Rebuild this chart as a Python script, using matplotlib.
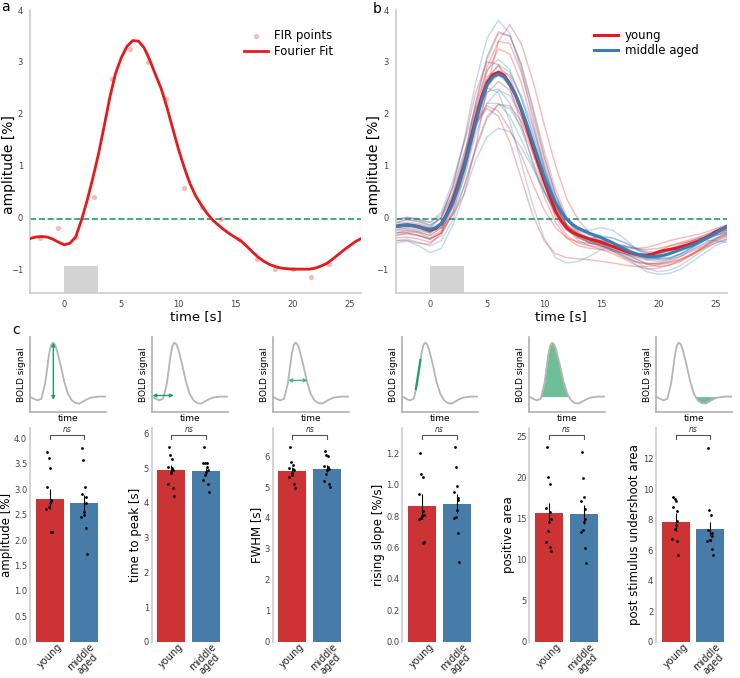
import numpy as np
import matplotlib
matplotlib.use('Agg')
import matplotlib.pyplot as plt
from matplotlib.transforms import blended_transform_factory

# colours
RED = '#e41a1c'
BLUE = '#377eb8'
BAR_RED = '#cb3335'
BAR_BLUE = '#477ca8'
GREEN = '#1f9e68'
LIGHT_GREEN = '#4db38a'
FILL_GREEN = '#6ebe96'
SPINE = '#cccccc'
TICK = '#444444'

W, H = 740, 678

# ---------------- data ----------------
# panel a: FIR estimates and Fourier fit
fir_time = [-2.16, -0.59, 0.99, 2.6, 4.18, 5.78, 7.33, 8.9, 10.5, 12.1,
            13.7, 15.3, 16.85, 18.46, 20.0, 21.6, 23.2]
fir_amp = [-0.39, -0.20, -0.37, 0.39, 2.67, 3.24, 3.00, 2.29, 0.56, 0.20,
           -0.04, -0.41, -0.80, -1.00, -1.00, -1.15, -0.90]

fit_time = np.arange(-3, 26.5, 0.5)  # sample grid
fit_amp = [-0.41, -0.38, -0.37, -0.38, -0.42, -0.48, -0.53, -0.50, -0.38, -0.06,
           0.32, 0.75, 1.22, 1.76, 2.32, 2.78, 3.08, 3.30, 3.41, 3.40,
           3.27, 3.03, 2.75, 2.48, 2.12, 1.72, 1.32, 0.97, 0.66, 0.42,
           0.24, 0.08, -0.05, -0.15, -0.24, -0.32, -0.39, -0.46, -0.56, -0.67,
           -0.77, -0.85, -0.91, -0.95, -0.98, -0.99, -1.00, -1.00, -1.00, -1.00,
           -0.98, -0.94, -0.89, -0.81, -0.72, -0.63, -0.55, -0.47, -0.41]

# panel b: group means (0.5 s grid) and single subjects (1 s grid)
mean_time = np.arange(-3, 26.5, 0.5)
young_mean = [-0.17, -0.16, -0.15, -0.16, -0.18, -0.22, -0.25, -0.22, -0.12, 0.07,
              0.33, 0.64, 0.98, 1.43, 1.89, 2.30, 2.60, 2.75, 2.80, 2.74,
              2.58, 2.36, 2.07, 1.73, 1.37, 1.03, 0.70, 0.40, 0.12, -0.07,
              -0.21, -0.29, -0.34, -0.38, -0.42, -0.45, -0.48, -0.52, -0.56, -0.60,
              -0.64, -0.68, -0.71, -0.73, -0.73, -0.71, -0.67, -0.64, -0.62, -0.60,
              -0.57, -0.54, -0.50, -0.46, -0.41, -0.35, -0.28, -0.23, -0.18]
middle_mean = [-0.18, -0.16, -0.15, -0.16, -0.19, -0.21, -0.23, -0.20, -0.12, 0.05,
               0.27, 0.58, 0.95, 1.38, 1.82, 2.23, 2.55, 2.71, 2.76, 2.71,
               2.56, 2.36, 2.10, 1.79, 1.46, 1.13, 0.80, 0.52, 0.28, 0.10,
               -0.04, -0.14, -0.21, -0.26, -0.31, -0.35, -0.39, -0.44, -0.49, -0.55,
               -0.60, -0.66, -0.70, -0.73, -0.76, -0.76, -0.75, -0.73, -0.70, -0.66,
               -0.62, -0.58, -0.54, -0.49, -0.43, -0.37, -0.31, -0.24, -0.18]

subj_time = np.arange(-3, 27, 1)
young_subjects = [
    [-0.10, -0.12, -0.15, -0.22, -0.20, 0.05, 0.45, 1.35, 2.50, 3.40, 3.72, 3.35, 2.65, 1.80, 1.00,
     0.35, -0.05, -0.30, -0.50, -0.65, -0.78, -0.86, -0.90, -0.90, -0.86, -0.80, -0.70, -0.56, -0.42, -0.30],
    [-0.30, -0.28, -0.30, -0.40, -0.25, 0.30, 1.10, 2.20, 3.10, 3.58, 3.50, 2.95, 2.10, 1.20, 0.45,
     -0.05, -0.30, -0.45, -0.55, -0.65, -0.75, -0.85, -0.90, -0.88, -0.82, -0.75, -0.65, -0.55, -0.42, -0.32],
    [-0.20, -0.22, -0.25, -0.30, -0.15, 0.35, 1.05, 2.05, 2.90, 3.40, 3.35, 2.80, 2.00, 1.15, 0.45,
     -0.05, -0.35, -0.50, -0.55, -0.60, -0.68, -0.80, -0.90, -0.95, -0.92, -0.85, -0.72, -0.58, -0.45, -0.35],
    [-0.35, -0.32, -0.35, -0.42, -0.30, 0.20, 0.95, 1.95, 2.80, 3.25, 3.15, 2.60, 1.80, 0.95, 0.25,
     -0.20, -0.45, -0.55, -0.62, -0.70, -0.80, -0.92, -1.00, -0.98, -0.92, -0.82, -0.70, -0.58, -0.46, -0.38],
    [-0.15, -0.10, -0.12, -0.20, 0.00, 0.60, 1.45, 2.40, 3.00, 2.95, 2.50, 1.80, 1.05, 0.40, -0.10,
     -0.40, -0.55, -0.60, -0.62, -0.65, -0.70, -0.75, -0.78, -0.72, -0.62, -0.52, -0.45, -0.38, -0.30, -0.25],
    [-0.25, -0.25, -0.28, -0.35, -0.20, 0.30, 0.95, 1.85, 2.55, 2.75, 2.55, 2.05, 1.35, 0.65, 0.10,
     -0.25, -0.40, -0.48, -0.52, -0.58, -0.65, -0.72, -0.72, -0.65, -0.55, -0.48, -0.42, -0.35, -0.28, -0.22],
    [-0.40, -0.38, -0.42, -0.48, -0.35, 0.10, 0.80, 1.70, 2.40, 2.62, 2.45, 1.95, 1.25, 0.55, 0.00,
     -0.35, -0.50, -0.55, -0.58, -0.62, -0.68, -0.75, -0.80, -0.78, -0.70, -0.60, -0.50, -0.42, -0.35, -0.30],
    [-0.30, -0.30, -0.35, -0.42, -0.30, 0.05, 0.60, 1.30, 1.90, 2.18, 2.15, 1.85, 1.35, 0.75, 0.20,
     -0.15, -0.35, -0.45, -0.50, -0.55, -0.62, -0.70, -0.72, -0.68, -0.60, -0.55, -0.48, -0.40, -0.32, -0.25],
    [-0.05, 0.00, -0.02, -0.10, 0.05, 0.55, 1.25, 1.85, 2.15, 2.05, 1.70, 1.20, 0.65, 0.15, -0.20,
     -0.40, -0.48, -0.50, -0.52, -0.55, -0.58, -0.60, -0.58, -0.52, -0.45, -0.40, -0.35, -0.30, -0.22, -0.15],
    [-0.45, -0.45, -0.50, -0.52, -0.30, 0.30, 1.10, 1.80, 2.10, 1.95, 1.45, 0.75, 0.05, -0.45, -0.70,
     -0.78, -0.80, -0.82, -0.85, -0.88, -0.92, -0.95, -0.95, -0.92, -0.88, -0.82, -0.72, -0.60, -0.50, -0.42],
    [-0.20, -0.18, -0.20, -0.28, -0.12, 0.40, 1.10, 2.00, 2.70, 2.92, 2.70, 2.15, 1.45, 0.75, 0.20,
     -0.15, -0.32, -0.40, -0.45, -0.50, -0.55, -0.60, -0.62, -0.60, -0.55, -0.50, -0.45, -0.38, -0.30, -0.22],
]
middle_subjects = [
    [-0.10, -0.05, -0.08, -0.18, 0.00, 0.60, 1.50, 2.60, 3.45, 3.80, 3.55, 2.85, 1.90, 1.00, 0.30,
     -0.15, -0.40, -0.50, -0.55, -0.62, -0.70, -0.78, -0.82, -0.80, -0.72, -0.62, -0.52, -0.42, -0.32, -0.22],
    [-0.20, -0.15, -0.18, -0.30, -0.15, 0.35, 1.15, 2.20, 3.05, 3.55, 3.50, 2.95, 2.15, 1.30, 0.55,
     0.00, -0.22, -0.25, -0.20, -0.25, -0.40, -0.60, -0.75, -0.80, -0.78, -0.70, -0.58, -0.45, -0.35, -0.25],
    [-0.05, -0.02, -0.05, -0.15, -0.02, 0.45, 1.20, 2.15, 2.85, 3.05, 2.85, 2.30, 1.60, 0.90, 0.35,
     -0.05, -0.28, -0.40, -0.45, -0.50, -0.55, -0.62, -0.68, -0.70, -0.65, -0.55, -0.45, -0.35, -0.25, -0.15],
    [-0.30, -0.25, -0.28, -0.35, -0.20, 0.20, 0.95, 1.90, 2.65, 2.95, 2.80, 2.30, 1.65, 0.95, 0.35,
     -0.05, -0.25, -0.35, -0.42, -0.50, -0.60, -0.72, -0.82, -0.85, -0.80, -0.70, -0.58, -0.45, -0.35, -0.28],
    [-0.15, -0.12, -0.15, -0.22, -0.10, 0.25, 0.90, 1.80, 2.50, 2.82, 2.75, 2.35, 1.75, 1.05, 0.40,
     -0.05, -0.25, -0.32, -0.35, -0.40, -0.48, -0.58, -0.68, -0.72, -0.70, -0.62, -0.52, -0.40, -0.30, -0.20],
    [-0.25, -0.20, -0.22, -0.30, -0.10, 0.40, 1.10, 1.90, 2.42, 2.48, 2.20, 1.70, 1.10, 0.50, 0.05,
     -0.25, -0.38, -0.40, -0.38, -0.40, -0.48, -0.60, -0.72, -0.80, -0.78, -0.70, -0.58, -0.45, -0.35, -0.28],
    [-0.35, -0.30, -0.35, -0.42, -0.30, 0.10, 0.75, 1.60, 2.20, 2.45, 2.35, 1.95, 1.40, 0.80, 0.25,
     -0.15, -0.35, -0.42, -0.45, -0.50, -0.58, -0.68, -0.78, -0.82, -0.80, -0.72, -0.62, -0.52, -0.42, -0.35],
    [-0.10, -0.05, -0.08, -0.15, 0.00, 0.45, 1.10, 1.75, 2.20, 2.20, 1.95, 1.50, 1.00, 0.50, 0.10,
     -0.20, -0.38, -0.48, -0.55, -0.62, -0.70, -0.80, -0.88, -0.90, -0.85, -0.75, -0.62, -0.50, -0.40, -0.32],
    [-0.45, -0.42, -0.48, -0.55, -0.45, -0.05, 0.60, 1.35, 1.95, 2.18, 2.10, 1.75, 1.25, 0.70, 0.20,
     -0.15, -0.35, -0.45, -0.52, -0.62, -0.75, -0.90, -1.05, -1.10, -1.08, -1.00, -0.85, -0.70, -0.55, -0.45],
    [-0.50, -0.45, -0.55, -0.68, -0.60, -0.15, 0.45, 1.10, 1.55, 1.72, 1.65, 1.35, 0.95, 0.50, 0.10,
     -0.20, -0.38, -0.48, -0.55, -0.62, -0.72, -0.85, -0.98, -1.05, -1.02, -0.92, -0.78, -0.62, -0.50, -0.42],
    [-0.05, 0.00, -0.05, -0.10, 0.10, 0.70, 1.45, 2.10, 2.50, 2.40, 1.85, 1.05, 0.25, -0.40, -0.78,
     -0.88, -0.85, -0.75, -0.62, -0.55, -0.55, -0.60, -0.65, -0.68, -0.65, -0.58, -0.50, -0.45, -0.45, -0.48],
]

# panel c: schematic BOLD curve (arbitrary units)
sketch_time = [0, 0.5, 1, 1.5, 2, 2.5, 2.75, 3, 3.25, 3.5, 4, 4.5, 5, 5.5, 6,
               6.5, 7, 7.5, 8, 8.5, 9, 9.5, 9.9]
sketch_bold = [0.0, -0.04, -0.07, -0.04, 0.25, 0.78, 0.95, 1.0, 0.97, 0.88, 0.6, 0.28, 0.05,
               -0.07, -0.12, -0.13, -0.09, -0.05, -0.02, -0.01, 0.0, 0.0, 0.0]

# panel c: HRF parameters per subject
groups = ['young', 'middle\naged']
amp_young = [3.74, 3.62, 3.41, 3.04, 2.79, 2.76, 2.72, 2.66, 2.62, 2.16, 2.15]
amp_middle = [3.82, 3.57, 3.04, 2.91, 2.85, 2.72, 2.56, 2.49, 2.46, 2.24, 1.72]
ttp_young = [5.61, 5.38, 5.27, 5.04, 5.01, 4.96, 4.90, 4.85, 4.55, 4.43, 4.19]
ttp_middle = [5.61, 5.14, 5.14, 5.14, 5.03, 4.95, 4.90, 4.79, 4.66, 4.55, 4.31]
fwhm_young = [6.31, 5.82, 5.71, 5.63, 5.60, 5.55, 5.44, 5.38, 5.34, 5.09, 4.98]
fwhm_middle = [6.15, 6.04, 5.99, 5.68, 5.65, 5.60, 5.55, 5.41, 5.20, 5.09, 5.00]
slope_young = [1.20, 1.07, 1.05, 0.94, 0.83, 0.81, 0.80, 0.79, 0.785, 0.63, 0.633]
slope_middle = [1.24, 1.115, 0.99, 0.955, 0.917, 0.906, 0.842, 0.793, 0.789, 0.693, 0.505]
pos_young = [23.7, 20.05, 19.23, 16.34, 15.78, 14.96, 14.56, 13.54, 12.2, 11.59, 11.1]
pos_middle = [23.17, 19.93, 17.6, 17.16, 16.15, 14.96, 14.56, 13.62, 13.34, 11.39, 9.63]
psu_young = [9.49, 9.34, 9.21, 8.84, 8.55, 7.9, 7.68, 7.38, 6.77, 6.59, 5.67]
psu_middle = [12.72, 8.62, 8.34, 7.31, 7.13, 6.94, 6.70, 6.66, 6.59, 6.11, 5.72]

bar_means = [[2.81, 2.73], [4.96, 4.91], [5.52, 5.60], [0.863, 0.88], [15.66, 15.54], [7.85, 7.38]]
bar_sems = [[0.19, 0.16], [0.13, 0.10], [0.12, 0.11], [0.08, 0.06], [1.24, 1.16], [0.62, 0.47]]
bar_points = [(amp_young, amp_middle), (ttp_young, ttp_middle), (fwhm_young, fwhm_middle),
              (slope_young, slope_middle), (pos_young, pos_middle), (psu_young, psu_middle)]
bar_labels = ['amplitude [%]', 'time to peak [s]', 'FWHM [s]', 'rising slope [%/s]',
              'positive area', 'post stimulus undershoot area']
bar_ylims = [4.2, 6.15, 6.9, 1.36, 26, 14]
bar_yticks = [np.arange(0, 4.01, 0.5), range(0, 7), range(0, 7),
              np.arange(0, 1.21, 0.2), range(0, 26, 5), range(0, 13, 2)]
bar_fmt = ['{:.1f}', '{:.0f}', '{:.0f}', '{:.1f}', '{:.0f}', '{:.0f}']

# fixed horizontal spread of the dots
JITTER = [-0.06, -0.03, 0.02, -0.08, 0.03, 0.05, 0.0, -0.02, -0.09, 0.04, 0.07]

# ---------------- layout ----------------
fig = plt.figure(figsize=(W / 100, H / 100), dpi=100)


def px_axes(left, top, right, bottom):
    return fig.add_axes([left / W, 1 - bottom / H, (right - left) / W, (bottom - top) / H])


def style_time_axis(ax):
    for s in ['top', 'right']:
        ax.spines[s].set_visible(False)
    for s in ['left', 'bottom']:
        ax.spines[s].set_color(SPINE)
        ax.spines[s].set_linewidth(1.2)
    ax.set_xlim(-3, 26)
    ax.set_ylim(-1.46, 4)
    ax.set_xticks([0, 5, 10, 15, 20, 25])
    ax.set_yticks([-1, 0, 1, 2, 3, 4])
    ax.tick_params(length=0, labelsize=6, colors=TICK, pad=5)
    ax.axhline(-0.03, color=GREEN, lw=1.2, ls='--', zorder=1)
    ax.fill_between([0, 3], -1.46, -0.93, color='#d3d3d3', lw=0, zorder=0)
    ax.set_xlabel('time [s]', fontsize=9.5, labelpad=1)
    ax.set_ylabel('amplitude [%]', fontsize=10)
    ax.yaxis.set_label_coords(-0.043, 0.454)


# panel a
ax_a = px_axes(30, 10, 361, 293)
style_time_axis(ax_a)
ax_a.scatter(fir_time, fir_amp, s=14, color=RED, alpha=0.3, lw=0, zorder=2, label='FIR points')
ax_a.plot(fit_time, fit_amp, color=RED, lw=2, zorder=3, label='Fourier Fit')
ax_a.legend(loc='upper right', bbox_to_anchor=(0.93, 0.95), frameon=False, fontsize=8.5,
            handlelength=2, handletextpad=0.5, borderaxespad=0, labelspacing=0.3)

# panel b
ax_b = px_axes(395.7, 10, 726.7, 293)
style_time_axis(ax_b)
for subj in young_subjects:
    ax_b.plot(subj_time, subj, color=RED, lw=1, alpha=0.3, zorder=2)
for subj in middle_subjects:
    ax_b.plot(subj_time, subj, color=BLUE, lw=1, alpha=0.3, zorder=2)
ax_b.plot(mean_time, young_mean, color=RED, lw=2.2, zorder=4, label='young')
ax_b.plot(mean_time, middle_mean, color=BLUE, lw=2.2, zorder=4, label='middle aged')
ax_b.legend(loc='upper right', bbox_to_anchor=(0.93, 0.95), frameon=False, fontsize=8.5,
            handlelength=2, handletextpad=0.6, borderaxespad=0, labelspacing=0.2)

# panel c
lefts = [30, 151.7, 272.7, 402.3, 529.3, 656]
for k, left in enumerate(lefts):
    # schematic
    sx = px_axes(left, 336.7, left + 76, 411.7)
    sx.plot(sketch_time, sketch_bold, color='#b5b5b5', lw=1.3, zorder=2)
    sx.set_xlim(0, 10)
    sx.set_ylim(-0.28, 1.11)
    sx.set_xticks([])
    sx.set_yticks([])
    for s in ['top', 'right']:
        sx.spines[s].set_visible(False)
    for s in ['left', 'bottom']:
        sx.spines[s].set_color('#b0b0b0')
        sx.spines[s].set_linewidth(1.2)
    sx.set_xlabel('time', fontsize=6.5, labelpad=1.5)
    sx.set_ylabel('BOLD signal', fontsize=6.5, labelpad=3)
    arrow = dict(arrowstyle='<|-|>', color=GREEN, lw=1, mutation_scale=5, shrinkA=0, shrinkB=0)
    if k == 0:
        sx.annotate('', xy=(3.07, 1.0), xytext=(3.07, -0.06), arrowprops=arrow)
    elif k == 1:
        sx.annotate('', xy=(2.9, 0.02), xytext=(0.1, 0.02), arrowprops=arrow)
    elif k == 2:
        arrow['color'] = LIGHT_GREEN
        sx.annotate('', xy=(4.6, 0.3), xytext=(2.05, 0.3), arrowprops=arrow)
    elif k == 3:
        sx.plot([1.78, 2.38], [0.14, 0.68], color=GREEN, lw=1.5, zorder=3)
    elif k == 4:
        t = np.array(sketch_time)
        b = np.array(sketch_bold)
        sx.fill_between(t, 0, b, where=(b > 0) & (t < 6), interpolate=True,
                        color=FILL_GREEN, lw=0, zorder=1)
    else:
        t = np.array(sketch_time)
        b = np.array(sketch_bold)
        sx.fill_between(t, 0, b, where=(b < 0) & (t > 5), interpolate=True,
                        color=FILL_GREEN, lw=0, zorder=1)

    # bars
    bx = px_axes(left, 428.3, left + 74, 641.7)
    bx.bar([0, 1], bar_means[k], width=0.8, color=[BAR_RED, BAR_BLUE], zorder=1)
    bx.errorbar([0, 1], bar_means[k], yerr=bar_sems[k], fmt='none', ecolor='k',
                elinewidth=0.8, capsize=0, zorder=2)
    for g, vals in enumerate(bar_points[k]):
        bx.scatter(np.array(JITTER[:len(vals)]) + g, vals, s=4, color='k', lw=0, zorder=3)
    bx.set_xlim(-0.56, 1.56)
    bx.set_ylim(0, bar_ylims[k])
    bx.set_yticks(bar_yticks[k])
    bx.set_yticklabels([bar_fmt[k].format(v) for v in bar_yticks[k]])
    bx.set_xticks([0, 1])
    bx.set_xticklabels(groups, rotation=45, linespacing=0.95)
    bx.tick_params(length=0, labelsize=6, colors=TICK, pad=2)
    bx.tick_params(axis='x', labelsize=7, colors='#222222', pad=0)
    for s in ['top', 'right', 'bottom']:
        bx.spines[s].set_visible(False)
    bx.spines['left'].set_color(SPINE)
    bx.spines['left'].set_linewidth(1.2)
    bx.set_ylabel(bar_labels[k], fontsize=8.5, labelpad=1)
    # significance bracket
    tr = blended_transform_factory(bx.transData, bx.transAxes)
    bx.plot([0, 0, 1, 1], [0.95, 0.969, 0.969, 0.95], transform=tr, color='#555555',
            lw=0.8, clip_on=False)
    bx.text(0.5, 0.975, 'ns', transform=tr, ha='center', va='bottom', fontsize=5.5,
            style='italic', color='#333333')

# panel letters
fig.text(1 / W, 1 - 0 / H, 'a', fontsize=10, va='top', ha='left')
fig.text(373 / W, 1 - 2 / H, 'b', fontsize=10, va='top', ha='left')
fig.text(12 / W, 1 - 323 / H, 'c', fontsize=10, va='top', ha='left')

fig.savefig('out.png', dpi=100)
